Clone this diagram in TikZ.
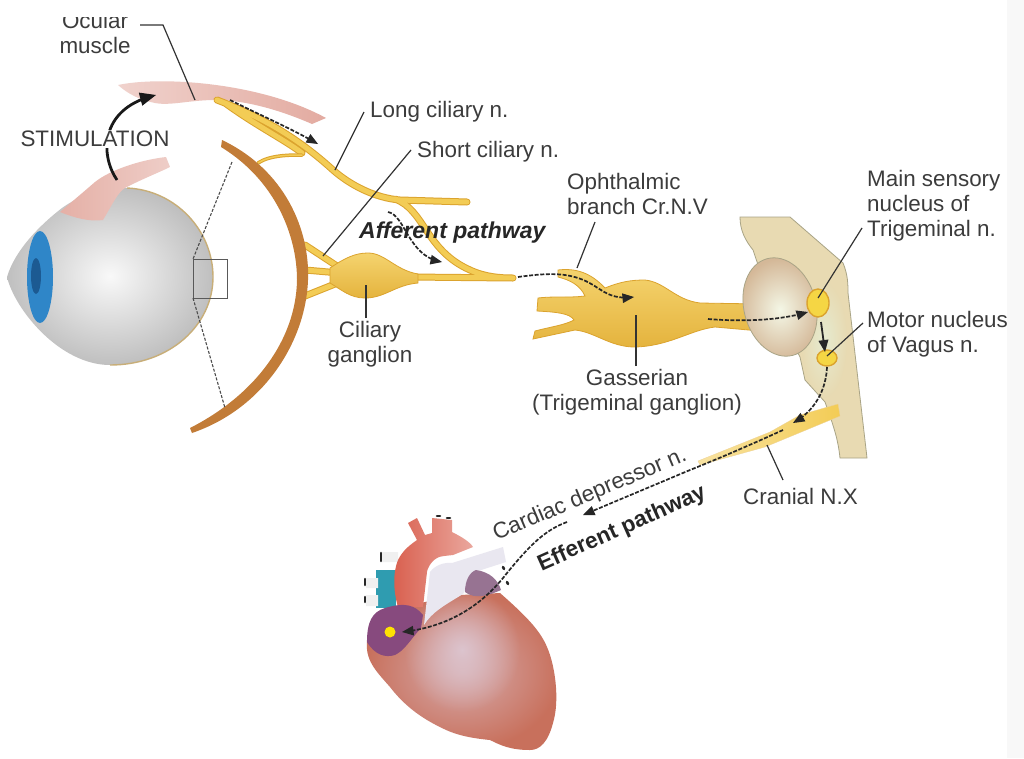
\documentclass[tikz,border=0pt]{standalone}
\usepackage{fontspec}
\setmainfont{Liberation Sans}
\usepackage{tikz}
\usetikzlibrary{calc}
\usetikzlibrary{arrows}
\usetikzlibrary{fadings}

\definecolor{labelgray}{HTML}{3C3C3C}
\definecolor{nerveedge}{HTML}{DBA32E}
\definecolor{nervecore}{HTML}{F3CC55}
\definecolor{retinabrown}{HTML}{C27C38}
\definecolor{stemtan}{HTML}{E8DAB2}
\definecolor{stemedge}{HTML}{A9A486}
\definecolor{stemlight}{HTML}{E6EBD0}
\definecolor{disctan}{HTML}{D4B898}
\definecolor{disclight}{HTML}{F4F7E6}
\definecolor{sidegray}{HTML}{F8F8F8}
\definecolor{eyetan}{HTML}{C8AE78}
\definecolor{irisblue}{HTML}{2F86C8}
\definecolor{pupilblue}{HTML}{1C5A92}
\definecolor{musclepink}{HTML}{DE9C90}
\definecolor{heartred}{HTML}{C8705C}
\definecolor{heartlilac}{HTML}{DCC4CE}
\definecolor{aortared}{HTML}{D9604F}
\definecolor{trunkwhite}{HTML}{E9E7F0}
\definecolor{atriumpurple}{HTML}{874A7E}
\definecolor{venateal}{HTML}{2F9CB0}
\tikzfading[name=softspot, inner color=transparent!0, outer color=transparent!100]

\begin{document}
\begin{tikzpicture}[x=1pt,y=-1pt]
  \tikzset{mylabel/.style={text=labelgray, font=\fontsize{22.4}{25}\selectfont, inner sep=0pt, align=left}};
  \tikzset{myboldlabel/.style={text=black!85, font=\fontsize{23}{25}\selectfont\bfseries, inner sep=0pt}};
  \tikzset{myleader/.style={draw=black!80, line width=1.2pt}};
  \tikzset{mypath/.style={->, >=triangle 45, dash pattern=on 4pt off 1.6pt, draw=black!85, line width=1.7pt}};
  \tikzset{myzoomline/.style={draw=black!70, dash pattern=on 3pt off 1.6pt, line width=1.1pt}};
  \tikzset{mynerve/.style={draw=nerveedge, double=nervecore, double distance=#1, line width=1pt, line cap=round}, mynerve/.default=5pt};
  \tikzset{myganglion/.style={draw=nerveedge, top color=nervecore!85!white, bottom color=nerveedge!60!nervecore, line width=.8pt}};
  \tikzset{mynucleus/.style={draw=nerveedge, fill=nervecore!80!yellow, line width=1.4pt}};
  \tikzset{mystub/.style={draw=black!85, line width=2.6pt, line cap=round}};

  \useasboundingbox (0,0) rectangle (1024,758);
  \fill[white] (0,0) rectangle (1024,758);
  \fill[sidegray] (1007,0) rectangle (1024,758);

  % upper muscle
  \shade[left color=musclepink!45!white, middle color=musclepink, right color=musclepink!85!white]
    (118,85) .. controls (160,76) and (260,82) .. (326,118) -- (312,124)
    .. controls (280,110) and (245,100) .. (215,100) .. controls (190,100) and (170,106) .. (155,103)
    .. controls (140,100) and (128,94) .. cycle;

  % nerves of the eye
  \draw[mynerve] (217,100) .. controls (265,118) and (300,140) .. (333,170) .. controls (350,185) and (375,198) .. (400,200) -- (467,202)
    (225,103) .. controls (255,125) and (285,140) .. (302,153)
    (395,199) .. controls (425,210) and (425,250) .. (470,270) .. controls (485,277) and (500,278) .. (513,278)
    (410,277) -- (513,278)
    (305,245) -- (340,268) (305,270) -- (340,273) (305,296) -- (340,282);
  \draw[mynerve=1.5pt] (258,163) .. controls (270,155) and (290,155) .. (302,155);
  \draw[myganglion] (330,268) .. controls (345,258) and (355,253) .. (368,253) .. controls (385,253) and (395,270) .. (418,274)
    -- (418,283) .. controls (395,285) and (385,298) .. (365,298) .. controls (350,298) and (342,290) .. (330,283) -- cycle;

  % retina
  \fill[retinabrown] (222,140) .. controls (285,170) and (310,230) .. (308,280) .. controls (306,340) and (265,408) .. (192,433)
    -- (190,428) .. controls (255,395) and (296,340) .. (297,280) .. controls (297,235) and (275,180) .. (221,147) -- cycle;

  % eyeball
  \shade[inner color=white!95!gray, outer color=black!25!white]
    (7,277) .. controls (15,250) and (40,225) .. (62,208) .. controls (80,195) and (105,187) .. (127,188)
    .. controls (175,190) and (213,230) .. (213,277) .. controls (213,325) and (170,365) .. (110,365)
    .. controls (60,365) and (15,310) .. (7,277) -- cycle;
  \draw[draw=eyetan, line width=1.4pt] (127,188) .. controls (175,190) and (213,230) .. (213,277)
    .. controls (213,325) and (170,365) .. (110,365);
  \fill[irisblue] (40,277) ellipse (13 and 46);
  \fill[pupilblue] (36,276) ellipse (5 and 18);
  \shade[left color=musclepink!80!white, right color=musclepink!50!white]
    (60,212) .. controls (75,218) and (90,222) .. (103,220) .. controls (112,205) and (118,192) .. (125,188)
    .. controls (140,180) and (160,172) .. (170,167) -- (166,157) .. controls (140,160) and (110,170) .. (95,182)
    .. controls (80,195) and (68,205) .. cycle;

  % gasserian ganglion
  \draw[myganglion] (558,270) .. controls (575,268) and (590,272) .. (605,288) .. controls (620,282) and (630,280) .. (645,280)
    .. controls (665,282) and (675,300) .. (700,303) -- (760,304) -- (760,331) -- (715,327)
    .. controls (690,330) and (670,346) .. (635,347) .. controls (610,347) and (595,332) .. (575,330) -- (533,339) -- (535,331)
    .. controls (550,327) and (565,325) .. (574,320) .. controls (570,313) and (555,312) .. (537,311) -- (538,298)
    .. controls (555,296) and (570,298) .. (585,296) .. controls (580,285) and (570,280) .. (558,277) -- cycle;

  % brainstem
  \draw[draw=stemedge, fill=stemtan, line width=.8pt] (740,217) -- (790,217) -- (843,263) .. controls (848,275) and (848,285) .. (848,293)
    -- (867,458) -- (840,458) .. controls (838,440) and (835,430) .. (825,402) -- (805,380) -- (800,357)
    -- (770,300) -- (753,250) .. controls (745,240) and (740,230) .. cycle;
  \fill[stemlight, path fading=softspot] (824,340) ellipse (23 and 58);
  \shade[inner color=disclight, outer color=disctan, draw=stemedge, line width=.8pt, rotate around={15:(780,307)}]
    (780,307) ellipse (36 and 50);

  % cranial nerve
  \shade[left color=nervecore!55!white, right color=nervecore, draw=nerveedge!50, line width=.3pt]
    (838,404) -- (840,416) -- (765,447) -- (700,465) -- (698,461) -- (770,432) -- (800,415) -- cycle;

  \draw[mynucleus] (818,303) ellipse (11 and 14);
  \draw[mynucleus] (827,358) ellipse (10 and 8);

  % heart
  \fill[venateal] (376,570) rectangle (396,608);
  \fill[gray!12] (380,552) rectangle (398,562) (366,578) rectangle (378,588) (366,595) rectangle (378,606);
  \draw[mystub] (381,553) -- (381,561) (365,579) -- (365,585) (365,597) -- (365,602) (437,516) -- (440,516) (447,518) -- (450,518);
  \shade[inner color=heartlilac!70!heartred, outer color=heartred]
    (500,593) .. controls (525,615) and (540,630) .. (547,647) .. controls (555,665) and (560,700) .. (553,723)
    .. controls (548,742) and (540,750) .. (530,750) .. controls (510,750) and (500,745) .. (490,740)
    .. controls (470,738) and (455,735) .. (440,727) .. controls (415,715) and (400,700) .. (390,687)
    .. controls (375,670) and (365,660) .. (367,640) -- (385,610) -- (460,595) -- cycle;
  \fill[heartlilac, path fading=softspot] (462,650) ellipse (58 and 62);
  \shade[left color=aortared, right color=aortared!55!white, draw=none]
    (398,607) .. controls (393,590) and (393,572) .. (398,560) .. controls (403,550) and (410,545) .. (417,540)
    -- (408,523) -- (417,518) -- (425,535) -- (432,533) -- (432,518) -- (452,520) -- (452,532)
    .. controls (462,537) and (470,542) .. (473,547) -- (453,555) .. controls (445,556) and (440,556) .. (437,558)
    .. controls (430,562) and (427,570) .. (427,572) -- (423,607) -- cycle;
  \fill[trunkwhite] (424,625) -- (430,572) .. controls (435,565) and (445,562) .. (452,563)
    -- (503,547) -- (506,562) -- (475,572) -- (463,594) .. controls (445,605) and (432,612) .. cycle;
  \fill[atriumpurple!70!gray!85!white] (465,592) .. controls (465,580) and (470,572) .. (476,570) .. controls (490,572) and (498,580) .. (501,590)
    .. controls (490,595) and (475,600) .. cycle;
  \fill[atriumpurple] (367,642) .. controls (367,622) and (372,612) .. (385,608) .. controls (405,602) and (415,605) .. (423,615)
    -- (421,628) .. controls (410,640) and (405,650) .. (395,655) .. controls (385,658) and (375,655) .. cycle;
  \draw[mystub] (503,567) -- (504,569) (507,582) -- (508,584);
  \fill[yellow!85!orange] (390,632) circle (5.5);

  % signal paths
  \draw[mypath] (230,100) .. controls (260,115) and (290,128) .. (318,144);
  \draw[mypath] (388,212) .. controls (405,215) and (408,255) .. (442,262);
  \draw[mypath] (518,277) .. controls (540,274) and (560,272) .. (578,278) .. controls (600,285) and (605,300) .. (634,297);
  \draw[mypath] (708,319) .. controls (745,322) and (780,320) .. (808,312);
  \draw[->, >=triangle 45, draw=black!85, line width=1.8pt] (821,322) -- (825,352);
  \draw[mypath] (827,367) .. controls (826,390) and (815,410) .. (793,423);
  \draw[mypath] (783,430) .. controls (750,445) and (720,458) .. (690,470) -- (583,515);
  \draw[mypath] (567,522) .. controls (545,530) and (530,545) .. (507,573) .. controls (490,595) and (460,625) .. (402,632);

  % dashed zoom lines and box
  \coordinate (boxtop) at (193,259);
  \coordinate (boxbottom) at (193,298);
  \coordinate (arctop) at (232,162);
  \coordinate (arcbottom) at (225,408);
  \draw[draw=black!65, line width=.9pt] (boxtop) rectangle (227,298);
  \draw[myzoomline] (arctop) -- (boxtop);
  \draw[myzoomline] (boxbottom) -- (arcbottom);

  \coordinate (stimstart) at (117,180);
  \coordinate (stimend) at (156,95);
  \draw[->, >=triangle 45, line width=2.8pt, draw=black!90] (stimstart) .. controls (100,155) and (100,110) .. (stimend);
  \node[mylabel, fill=white, anchor=center, inner sep=1pt] (stimlabel) at (95,139) {STIMULATION};

  % labels
  \node[mylabel, anchor=center, align=center] (ocularlabel) at (95,33) {Ocular\\muscle};
  \fill[white] (0,0) rectangle (1007,17);
  \coordinate (ocularbend) at (163,25);
  \coordinate (ocularpoint) at (195,100);
  \draw[myleader] (140,25) -- (ocularbend) -- (ocularpoint);

  \node[mylabel, anchor=west] (longlabel) at (370,112) {Long ciliary n.};
  \coordinate (longpoint) at (335,170);
  \draw[myleader] (longlabel.west) ++(-6,0) -- (longpoint);

  \node[mylabel, anchor=west] (shortlabel) at (417,152) {Short ciliary n.};
  \coordinate (shortpoint) at (323,256);
  \draw[myleader] (shortlabel.west) ++(-6,-2) -- (shortpoint);

  \node[myboldlabel, anchor=west, font=\fontsize{23}{25}\selectfont\bfseries\itshape] (afferentlabel) at (359,233) {Afferent pathway};

  \node[mylabel, anchor=center, align=center] (ciliarylabel) at (370,344) {Ciliary\\ganglion};
  \coordinate (ciliarypoint) at (366,285);
  \draw[myleader] (366,318) -- (ciliarypoint);

  \node[mylabel, anchor=north west] (ophthalmiclabel) at (567,173) {Ophthalmic\\branch Cr.N.V};
  \coordinate (ophthalmicpoint) at (577,268);
  \draw[myleader] (595,222) -- (ophthalmicpoint);

  \node[mylabel, anchor=center, align=center] (gasserianlabel) at (637,392) {Gasserian\\(Trigeminal ganglion)};
  \coordinate (gasserianpoint) at (636,315);
  \draw[myleader] (636,366) -- (gasserianpoint);

  \node[mylabel, anchor=north west] (mainlabel) at (867,170) {Main sensory\\nucleus of\\Trigeminal n.};
  \coordinate (mainpoint) at (818,298);
  \draw[myleader] (862,228) -- (mainpoint);

  \node[mylabel, anchor=north west] (motorlabel) at (867,311) {Motor nucleus\\of Vagus n.};
  \coordinate (motorpoint) at (827,356);
  \draw[myleader] (863,323) -- (motorpoint);

  \node[mylabel, anchor=west] (craniallabel) at (743,496) {Cranial N.X};
  \coordinate (cranialpoint) at (767,445);
  \draw[myleader] (783,480) -- (cranialpoint);

  \node[mylabel, rotate=23] (cardiaclabel) at (590,495) {Cardiac depressor n.};
  \node[myboldlabel, font=\fontsize{22.5}{25}\selectfont\bfseries, rotate=24] (efferentlabel) at (622,529) {Efferent pathway};
\end{tikzpicture}
\end{document}
